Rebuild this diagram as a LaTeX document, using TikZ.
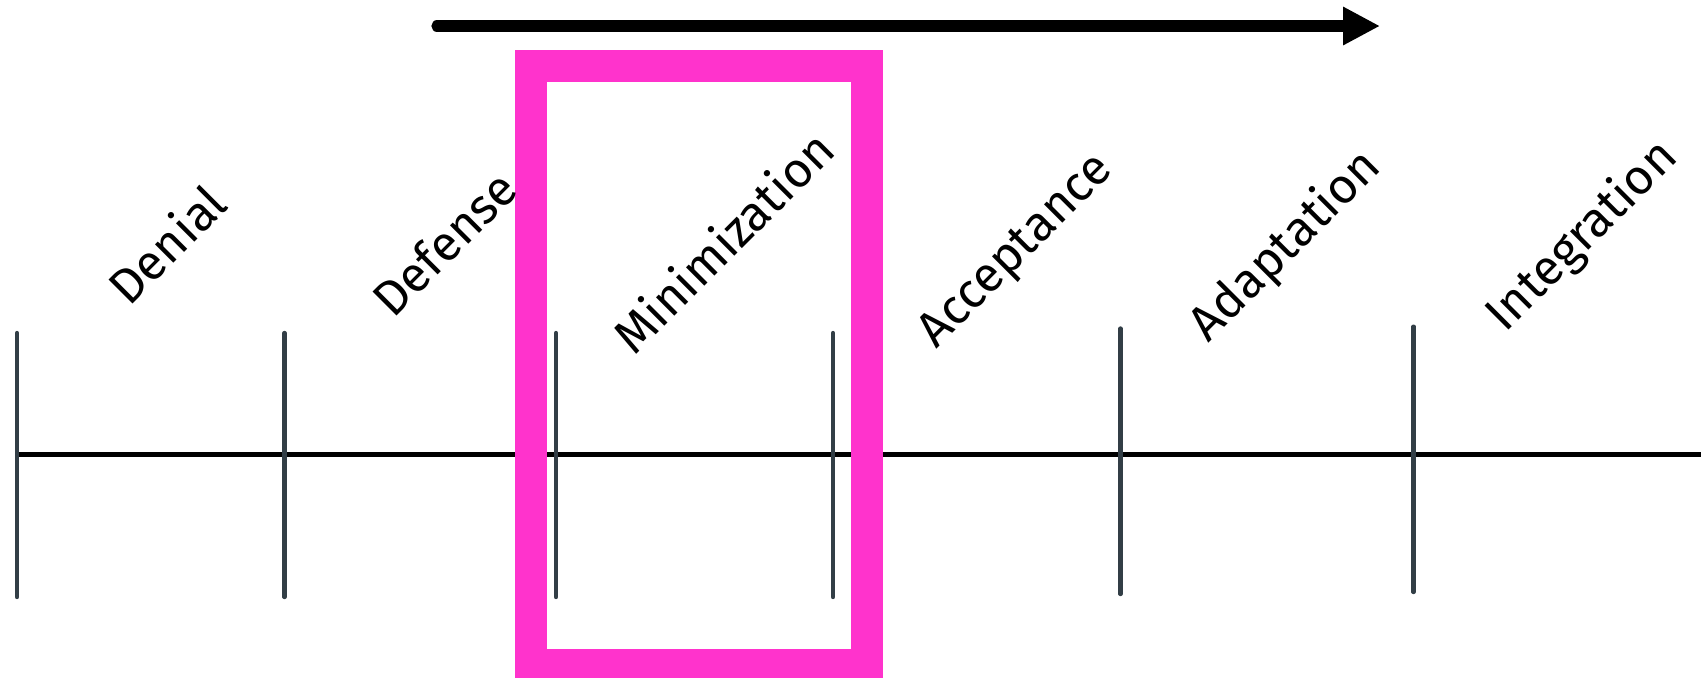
\documentclass[tikz,border=0pt]{standalone}
\usepackage{fontspec}
\setmainfont{Fira Sans}
\usetikzlibrary{arrows.meta}
\definecolor{hotpink}{RGB}{255,51,204}
\definecolor{tickgray}{RGB}{50,62,70}

\begin{document}
\begin{tikzpicture}[line cap=round]
\useasboundingbox (0,0) rectangle (17.01,6.77);
% axis and ticks
\draw[line width=1.6pt,line cap=butt] (0.17,2.225) -- (17.01,2.225);
\foreach \x/\t/\b in {0.17/3.44/0.80,2.845/3.44/0.80,5.56/3.44/0.80,8.33/3.44/0.80,11.205/3.485/0.83,14.135/3.503/0.85}{
  \draw[tickgray,line width=1.25pt] (\x,\b) -- (\x,\t);
}
% highlight
\draw[hotpink,line width=0.32cm,line cap=butt] (5.31,0.125) rectangle (8.665,6.11);
\draw[line width=3.2pt,-{Triangle[width=0.36cm,length=0.37cm]}] (4.37,6.51) -- (13.80,6.51);
\foreach \x/\y/\s [count=\i] in {1.29/3.69/Denial,3.93/3.57/Defense,6.34/3.20/Minimization,9.36/3.27/Acceptance,12.08/3.33/Adaptation,15.05/3.43/Integration}{
  \node[rotate=45,anchor=base west,inner sep=0pt,font=\fontsize{14}{17}\selectfont] (stage\i) at (\x,\y) {\s};
}
\end{tikzpicture}
\end{document}
